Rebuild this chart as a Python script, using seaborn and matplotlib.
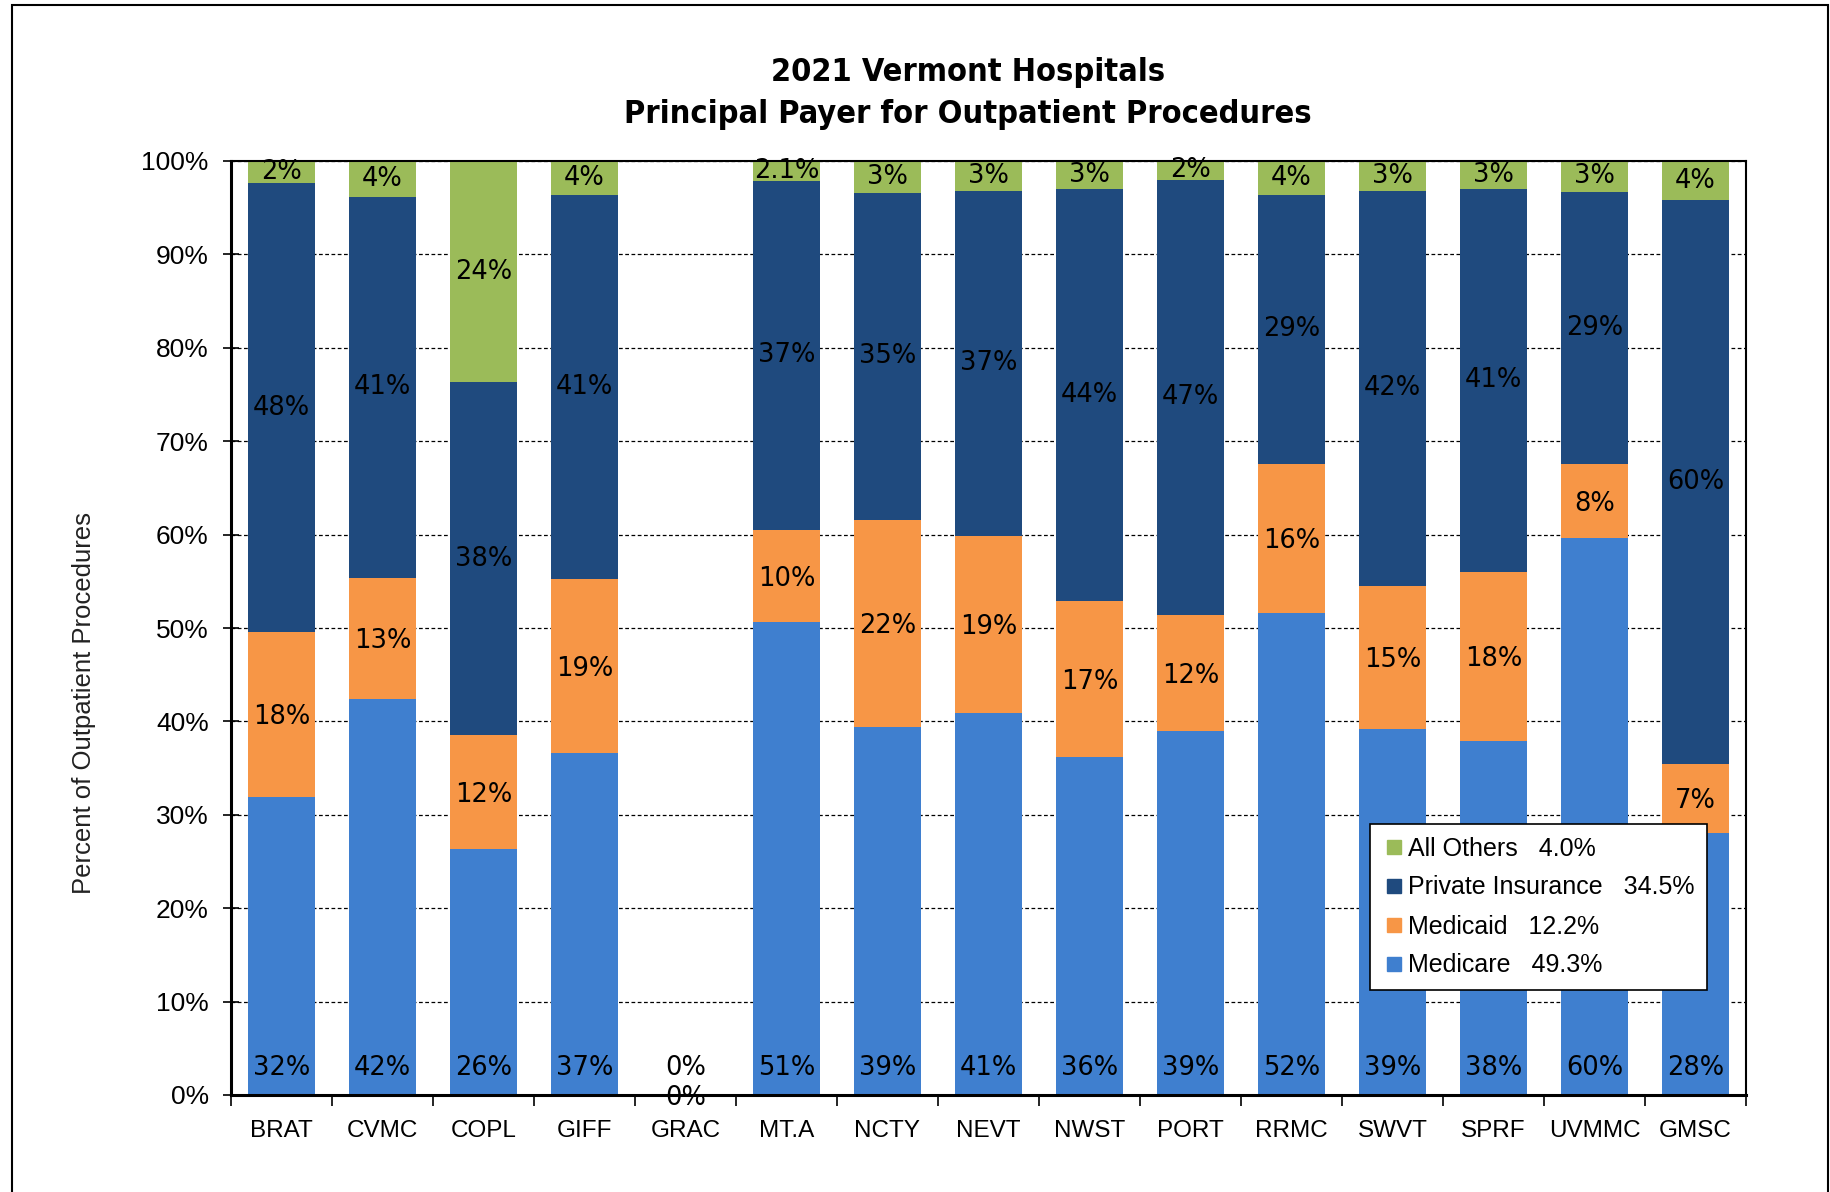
import matplotlib
matplotlib.use("Agg")
import matplotlib.pyplot as plt
import matplotlib.patches as mpatches
from matplotlib.lines import Line2D
import seaborn as sns
import pandas as pd
import numpy as np

hospitals = ["BRAT", "CVMC", "COPL", "GIFF", "GRAC", "MT.A", "NCTY", "NEVT",
             "NWST", "PORT", "RRMC", "SWVT", "SPRF", "UVMMC", "GMSC"]
medicare = [31.9, 42.4, 26.3, 36.6, 0.0, 50.6, 39.4, 40.9, 36.2, 39.0, 51.6, 39.2, 37.9, 59.6, 28.1]
medicaid = [17.7, 13.0, 12.2, 18.6, 0.0, 9.9, 22.2, 19.0, 16.7, 12.4, 16.0, 15.3, 18.1, 8.0, 7.3]
private = [48.0, 40.7, 37.8, 41.2, 0.0, 37.4, 35.0, 36.9, 44.1, 46.6, 28.8, 42.3, 41.0, 29.1, 60.4]
others = [2.4, 3.9, 23.7, 3.6, 0.0, 2.1, 3.4, 3.2, 3.0, 2.0, 3.6, 3.2, 3.0, 3.3, 4.2]
series_names = ["All Others", "Private Insurance", "Medicaid", "Medicare"]
series_totals = ["4.0%", "34.5%", "12.2%", "49.3%"]
label_overrides = {("All Others", "MT.A"): "2.1%"}

colors = {"Medicare": "#3F7FCF", "Medicaid": "#F79646",
          "Private Insurance": "#1F4A7E", "All Others": "#9BBB59"}

df = pd.DataFrame({"hospital": hospitals, "Medicare": medicare, "Medicaid": medicaid,
                   "Private Insurance": private, "All Others": others})
for c in ["Medicare", "Medicaid", "Private Insurance", "All Others"]:
    df[c] = df[c] / 100.0
df["c_medicare"] = df["Medicare"]
df["c_medicaid"] = df["c_medicare"] + df["Medicaid"]
df["c_private"] = df["c_medicaid"] + df["Private Insurance"]
df["c_others"] = df["c_private"] + df["All Others"]

sns.set_theme(style="white")
plt.rcParams["font.family"] = ["DejaVu Sans"]
plt.rcParams["text.color"] = "black"
plt.rcParams["axes.labelcolor"] = "black"
plt.rcParams["xtick.color"] = "black"
plt.rcParams["ytick.color"] = "black"

title_kw = dict(fontfamily="DejaVu Sans", fontstretch="condensed", fontweight="bold")

fig = plt.figure(figsize=(18.31, 11.92), dpi=100)
ax = fig.add_axes([231 / 1831, 1 - 1095 / 1192, (1746 - 231) / 1831, (1095 - 161) / 1192])

layers = [("c_others", "All Others"), ("c_private", "Private Insurance"),
          ("c_medicaid", "Medicaid"), ("c_medicare", "Medicare")]
for col, name in layers:
    sns.barplot(data=df, x="hospital", y=col, color=colors[name], ax=ax,
                width=0.66, saturation=1, edgecolor="none", linewidth=0, zorder=2)

ax.set_ylim(0, 1)
ax.set_xlim(-0.5, len(hospitals) - 0.5)
ax.set_yticks(np.arange(0, 1.01, 0.1))
ax.set_yticklabels([f"{int(round(v * 100))}%" for v in np.arange(0, 1.01, 0.1)],
                   fontfamily="Liberation Sans", fontsize=19)
ax.yaxis.grid(True, linestyle=(0, (3, 2)), color="black", linewidth=0.9, zorder=0)
ax.set_axisbelow(True)
ax.tick_params(axis="y", which="major", direction="inout", length=12, width=1.2,
               left=True, pad=10, colors="black")

ax.set_xticks(np.arange(len(hospitals)))
ax.set_xticklabels(hospitals, fontfamily="Liberation Sans", fontsize=17.5)
ax.tick_params(axis="x", which="major", length=0, pad=18)
ax.set_xticks(np.arange(-0.5, len(hospitals), 1), minor=True)
ax.tick_params(axis="x", which="minor", direction="out", length=8, width=1.2,
               bottom=True, colors="black")

ax.set_xlabel("")
ax.set_ylabel("Percent of Outpatient Procedures", fontfamily="Liberation Sans",
              fontsize=18.5, color="#222222")
ax.yaxis.set_label_coords(-0.089, 0.42)

for s in ["left", "bottom", "top", "right"]:
    ax.spines[s].set_visible(True)
    ax.spines[s].set_color("black")
ax.spines["left"].set_linewidth(2.2)
ax.spines["bottom"].set_linewidth(2.2)
ax.spines["top"].set_linewidth(1.5)
ax.spines["right"].set_linewidth(1.5)

def lab(name, h, v):
    if (name, h) in label_overrides:
        return label_overrides[(name, h)]
    return f"{round(v * 100):.0f}%"

fs = 18.5
for i, h in enumerate(hospitals):
    row = df.iloc[i]
    total = row["c_others"]
    ax.text(i, 0.029, lab("Medicare", h, row["Medicare"]), ha="center", va="center",
            fontsize=fs, color="black", zorder=5)
    ax.text(i, (row["c_medicare"] + row["c_medicaid"]) / 2 - 0.003,
            lab("Medicaid", h, row["Medicaid"]), ha="center", va="center",
            fontsize=fs, color="black", zorder=5, clip_on=False)
    if total > 0:
        ax.text(i, (row["c_medicaid"] + row["c_private"]) / 2,
                lab("Private Insurance", h, row["Private Insurance"]), ha="center",
                va="center", fontsize=fs, color="black", zorder=5)
        ax.text(i, (row["c_private"] + row["c_others"]) / 2,
                lab("All Others", h, row["All Others"]), ha="center", va="center",
                fontsize=fs, color="black", zorder=5)

handles = [Line2D([0], [0], marker="s", linestyle="none", markersize=10,
                  markerfacecolor=colors[n], markeredgecolor=colors[n]) for n in series_names]
labels = [f"{n}   {t}" for n, t in zip(series_names, series_totals)]
leg = ax.legend(handles, labels, loc="lower left",
                bbox_to_anchor=((1370 - 231) / 1515, (1095 - 990) / 934),
                frameon=True, fancybox=False, framealpha=1, edgecolor="black",
                prop={"family": "Liberation Sans", "size": 18},
                handletextpad=0.1, handlelength=0.9, labelspacing=0.6,
                borderpad=0.5, borderaxespad=0)
leg.get_frame().set_linewidth(1.2)
leg.set_zorder(10)

fig.text(968 / 1831, 1 - 72 / 1192, "2021 Vermont Hospitals", ha="center", va="center",
         fontsize=23.3, color="black", **title_kw)
fig.text(968 / 1831, 1 - 115 / 1192, "Principal Payer for Outpatient Procedures",
         ha="center", va="center", fontsize=23.3, color="black", **title_kw)

frame = mpatches.Rectangle((12 / 1831, -0.05), (1828 - 12) / 1831, 1.05 - 5 / 1192,
                           transform=fig.transFigure, fill=False, edgecolor="black",
                           linewidth=1.5, clip_on=False)
fig.patches.append(frame)

fig.savefig("out.png", dpi=100, facecolor="white")
